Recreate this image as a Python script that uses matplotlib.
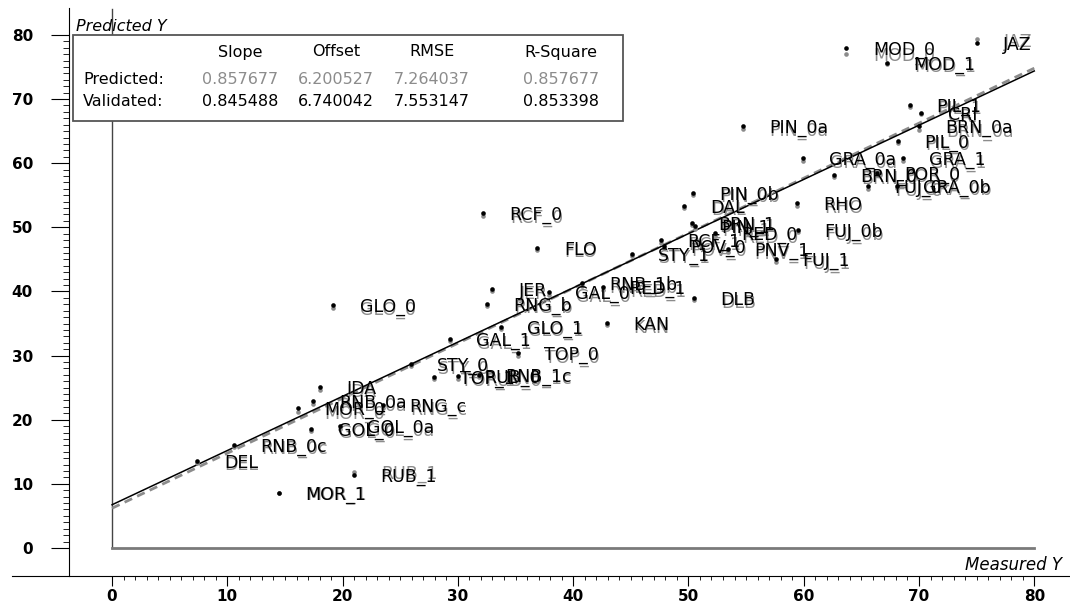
import numpy as np
import matplotlib
matplotlib.use("Agg")
import matplotlib.pyplot as plt
from matplotlib.patches import Rectangle

# sample names, measured Y, validated (black) and predicted (grey) Y
names = ["JAZ", "MOD_0", "MOD_1", "PIL_1", "CRI", "BRN_0a", "PIN_0a", "PIL_0",
         "GRA_0a", "GRA_1", "BRN_0", "POR_0", "FUJ_0", "GRA_0b", "PIN_0b", "RHO",
         "DAL", "BRN_1", "PIN_1", "RED_0", "FUJ_0b", "RCF_1", "POV_0", "PNV_1",
         "STY_1", "FUJ_1", "FLO", "RCF_0", "RNB_1b", "RED_1", "GAL_0", "JER",
         "RNG_b", "GLO_0", "KAN", "DLB", "GLO_1", "GAL_1", "TOP_0", "STY_0",
         "TOP_1", "RUB_0", "RNB_1c", "IDA", "RNB_0a", "RNG_c", "MOR_0", "GOL_0",
         "GOL_0a", "RNB_0c", "DEL", "RUB_1", "MOR_1"]
measured = [75.0, 63.7, 67.2, 69.2, 70.2, 70.0, 54.7, 68.2,
            59.9, 68.6, 62.6, 66.4, 65.6, 68.1, 50.4, 59.4,
            49.6, 50.3, 50.6, 52.3, 59.5, 47.6, 47.9, 53.4,
            45.1, 57.6, 36.9, 32.2, 40.8, 42.6, 37.9, 33.0,
            32.5, 19.2, 42.9, 50.5, 33.7, 29.3, 35.2, 25.9,
            27.9, 30.0, 31.8, 18.0, 17.4, 23.5, 16.1, 17.3,
            19.8, 10.6, 7.4, 21.0, 14.5]
validated = [78.8, 78.0, 75.7, 69.1, 67.9, 65.8, 65.8, 63.5,
             60.8, 60.8, 58.2, 58.5, 56.5, 56.5, 55.4, 53.8,
             53.4, 50.7, 50.2, 49.1, 49.6, 48.0, 47.1, 46.6,
             45.9, 45.1, 46.8, 52.3, 41.3, 40.7, 39.9, 40.4,
             38.1, 37.9, 35.1, 39.0, 34.5, 32.6, 30.4, 28.7,
             26.7, 26.8, 27.0, 25.1, 22.9, 22.3, 21.8, 18.6,
             19.0, 16.1, 13.6, 11.4, 8.6]
predicted = [79.3, 77.1, 75.4, 68.8, 67.6, 65.2, 65.4, 63.2,
             60.4, 60.4, 57.8, 58.1, 56.0, 56.1, 55.0, 53.4,
             53.0, 50.3, 49.8, 48.7, 49.2, 47.6, 46.7, 46.2,
             45.5, 44.6, 46.4, 51.8, 40.9, 40.3, 39.5, 40.0,
             37.7, 37.4, 34.7, 38.6, 34.1, 32.2, 30.0, 28.3,
             26.3, 26.4, 26.6, 24.7, 22.5, 21.9, 21.2, 18.2,
             18.6, 15.7, 13.2, 11.9, 8.6]

stat_names = ["Slope", "Offset", "RMSE", "R-Square"]
pred_stats = ["0.857677", "6.200527", "7.264037", "0.857677"]
val_stats = ["0.845488", "6.740042", "7.553147", "0.853398"]
pred_fit = (0.857677, 6.200527)
val_fit = (0.845488, 6.740042)

GREY = "#8c8c8c"
W, H = 1070, 608


def fx(p):
    return p / W


def fy(p):
    return 1 - p / H


fig = plt.figure(figsize=(W / 100, H / 100), dpi=100)
ax = fig.add_axes([fx(12), fy(576), 1 - fx(12), (576 - 8) / H])
ax.set_xlim(-8.68, 83.1)
ax.set_ylim(-4.37, 84.2)

ax.spines["top"].set_visible(False)
ax.spines["right"].set_visible(False)
ax.spines["left"].set_position(("data", -3.73))

ax.set_xticks(np.arange(0, 81, 10))
ax.set_yticks(np.arange(0, 81, 10))
ax.set_xticks(np.arange(0, 81, 1), minor=True)
ax.set_yticks(np.arange(0, 81, 1), minor=True)
ax.tick_params(axis="x", which="major", direction="out", length=7, pad=2.5)
ax.tick_params(axis="x", which="minor", direction="out", length=3)
ax.tick_params(axis="y", which="major", direction="out", length=13, pad=13)
ax.tick_params(axis="y", which="minor", direction="out", length=4.3)
for lab in ax.get_xticklabels() + ax.get_yticklabels():
    lab.set_fontweight("bold")
    lab.set_fontsize(11)

# inner frame at x=0 / y=0
ax.plot([0, 0], [0, 84], color="#444444", lw=1, zorder=1)
ax.plot([0, 80], [0, 0], color="#7a7a7a", lw=2, zorder=1)

# fit lines
xs = np.array([0, 80])
ax.plot(xs, pred_fit[0] * xs + pred_fit[1], color=GREY, lw=2, ls=(0, (3, 2)), zorder=2)
ax.plot(xs, val_fit[0] * xs + val_fit[1], color="black", lw=1.1, zorder=3)

# points and labels
ax.scatter(measured, predicted, s=11, color=GREY, zorder=4, linewidths=0)
ax.scatter(measured, validated, s=11, color="black", zorder=5, linewidths=0)
for n, x, yp, yv in zip(names, measured, predicted, validated):
    ax.annotate(n, (x, yp), xytext=(19.5, -1.5), textcoords="offset points",
                ha="left", va="center", fontsize=12.5, color=GREY, zorder=4)
    ax.annotate(n, (x, yv), xytext=(19, -1.5), textcoords="offset points",
                ha="left", va="center", fontsize=12.5, color="black", zorder=5)

# axis titles
fig.text(fx(76), fy(34), "Predicted Y", style="italic", fontsize=11.5,
         ha="left", va="bottom")
fig.text(fx(1062), fy(574), "Measured Y", style="italic", fontsize=12,
         ha="right", va="bottom")

# statistics table
fig.add_artist(Rectangle((fx(73), fy(121)), 550 / W, 86 / H, transform=fig.transFigure,
                         facecolor="white", edgecolor="#555555", lw=1.3, zorder=5))
col_x = [240, 336, 432, 561]
for cx, s, p, v in zip(col_x, stat_names, pred_stats, val_stats):
    fig.text(fx(cx), fy(52), s, ha="center", va="center", fontsize=11.5, zorder=6)
    fig.text(fx(cx), fy(79), p, ha="center", va="center", fontsize=11.5,
             color=GREY, zorder=6)
    fig.text(fx(cx), fy(101), v, ha="center", va="center", fontsize=11.5, zorder=6)
fig.text(fx(83), fy(79), "Predicted:", ha="left", va="center", fontsize=11.5, zorder=6)
fig.text(fx(83), fy(101), "Validated:", ha="left", va="center", fontsize=11.5, zorder=6)

fig.savefig("out.png", dpi=100)
